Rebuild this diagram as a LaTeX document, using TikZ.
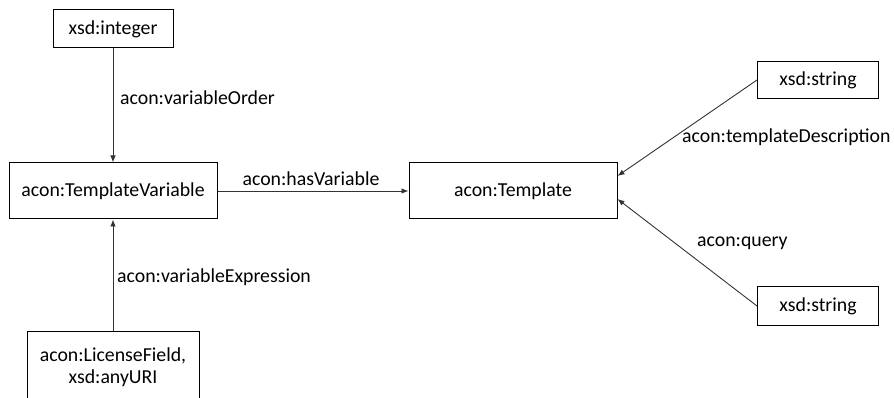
\documentclass[tikz,border=0pt]{standalone}
\usepackage{fontspec}
\setmainfont{Carlito}
\usetikzlibrary{arrows.meta}
\begin{document}
\begin{tikzpicture}[x=1pt,y=-1pt,
  every node/.style={font=\fontsize{19.8}{22.5}\selectfont, text=black},
  cls/.style={draw=black, line width=1pt, inner sep=0pt, anchor=center},
  prop/.style={draw=black!80, line width=0.9pt, -{Latex[length=7pt,width=5.5pt]}},
  lbl/.style={inner sep=0pt}]
  \useasboundingbox (0,0) rectangle (894,398);
  \clip (0,0) rectangle (894,398);
  % classes and datatypes
  \node[cls, minimum width=120pt, minimum height=38pt] (intnode) at (113,29) {xsd:integer};
  \node[cls, minimum width=208pt, minimum height=56pt] (tv) at (113,191) {acon:TemplateVariable};
  \node[cls, minimum width=208pt, minimum height=56pt] (tmpl) at (513,191) {acon:Template};
  \node[cls, minimum width=121pt, minimum height=37pt] (str1) at (818,80) {xsd:string};
  \node[cls, minimum width=121pt, minimum height=39pt] (str2) at (818,306) {xsd:string};
  \node[cls, minimum width=172pt, minimum height=72pt, align=center] (lic) at (113,367)
    {acon:LicenseField,\\xsd:anyURI};
  % properties
  \draw[prop] (intnode.south) -- (tv.north);
  \draw[prop] (tv.east) -- (tmpl.west);
  \draw[prop] (str1.west) -- ([yshift=15pt]tmpl.east);
  \draw[prop] (str2.west) -- ([yshift=-8pt]tmpl.east);
  \draw[prop] (lic.north) -- (tv.south);
  % property labels
  \node[lbl, anchor=west] (l1) at (120,98) {acon:variableOrder};
  \node[lbl] (l2) at (311,179) {acon:hasVariable};
  \node[lbl, anchor=west] (l3) at (682,137) {acon:templateDescription};
  \node[lbl, anchor=west] (l4) at (697,243) {acon:query};
  \node[lbl, anchor=west] (l5) at (117,277) {acon:variableExpression};
\end{tikzpicture}
\end{document}
